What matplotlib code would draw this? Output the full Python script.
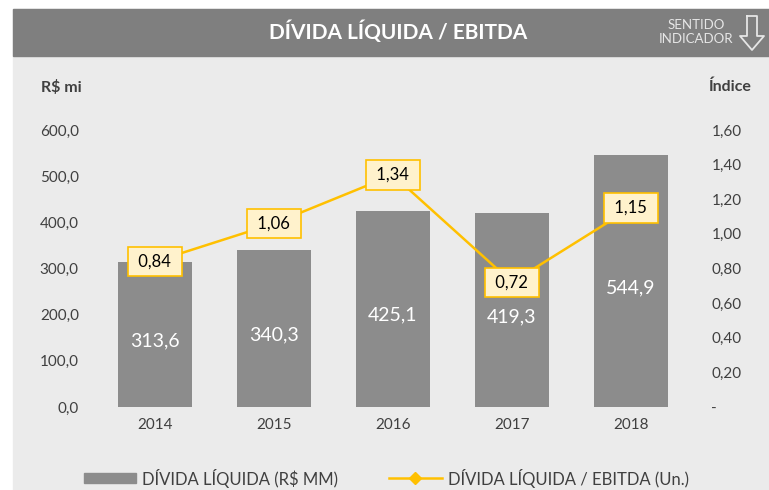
import matplotlib.pyplot as plt
from matplotlib.patches import Rectangle
from matplotlib.lines import Line2D

plt.rcParams['font.family'] = ['Lato', 'DejaVu Sans']

anos = ['2014', '2015', '2016', '2017', '2018']
divida = [313.6, 340.3, 425.1, 419.3, 544.9]
indice = [0.84, 1.06, 1.34, 0.72, 1.15]
ticks_esq = [0, 100, 200, 300, 400, 500, 600]
ticks_dir = [0, 0.2, 0.4, 0.6, 0.8, 1.0, 1.2, 1.4, 1.6]

W, H = 769, 490
fig = plt.figure(figsize=(W / 100, H / 100), dpi=100)
fig.patch.set_facecolor('white')

# fundo cinza e faixa do titulo
fig.patches.append(Rectangle((13 / W, 0), 1, (H - 9) / H, transform=fig.transFigure,
                             color='#ebebeb', zorder=-10))
fig.patches.append(Rectangle((13 / W, (H - 56) / H), 1, 47 / H, transform=fig.transFigure,
                             color='#7f7f7f', zorder=-9))
fig.text(398 / W, (H - 32) / H, 'DÍVIDA LÍQUIDA / EBITDA', color='white', fontsize=15,
         fontweight='bold', ha='center', va='center')
fig.text(696 / W, (H - 32) / H, 'SENTIDO\nINDICADOR', color='#e6e6e6', fontsize=9.5,
         ha='center', va='center', linespacing=1.25)
# seta para baixo (contorno)
sx, sy = 752, 16
seta = [(sx - 5, sy), (sx + 5, sy), (sx + 5, sy + 20), (sx + 12, sy + 20), (sx, sy + 34),
        (sx - 12, sy + 20), (sx - 5, sy + 20), (sx - 5, sy)]
fig.lines.append(Line2D([p[0] / W for p in seta], [(H - p[1]) / H for p in seta],
                        transform=fig.transFigure, color='#e6e6e6', lw=1.3))

ax = fig.add_axes([95.5 / W, 83 / H, 595 / W, 277 / H])
ax.set_facecolor('none')
x = range(len(anos))
ax.bar(x, divida, width=0.63, color='#8c8c8c', zorder=2)
for xi, v in zip(x, divida):
    ax.annotate(f'{v:.1f}'.replace('.', ','), (xi, v / 2), xytext=(0, -4.5),
                textcoords='offset points', ha='center', va='center', color='white',
                fontsize=14, zorder=3)
ax.set_xlim(-0.5, 4.5)
ax.set_ylim(0, 600)
ax.set_xticks(list(x))
ax.set_xticklabels(anos)
ax.set_yticks(ticks_esq)
ax.set_yticklabels([f'{v:.1f}'.replace('.', ',') for v in ticks_esq])
ax.tick_params(length=0, labelsize=11, labelcolor='#404040', pad=12)
ax.tick_params(axis='x', pad=8)
for s in ax.spines.values():
    s.set_visible(False)

ax2 = ax.twinx()
ax2.plot(x, indice, color='#ffc000', lw=1.8, zorder=3)
for xi, v in zip(x, indice):
    ax2.text(xi, v, ' ' + f'{v:.2f}'.replace('.', ',') + ' ', ha='center', va='center',
             fontsize=12, color='black', zorder=4,
             bbox=dict(boxstyle='square,pad=0.4', fc='#fff2cc', ec='#ffc000', lw=1.2))
ax2.set_ylim(0, 1.6)
ax2.set_yticks(ticks_dir)
ax2.set_yticklabels(['-'] + [f'{v:.2f}'.replace('.', ',') for v in ticks_dir[1:]])
ax2.tick_params(length=0, labelsize=11, labelcolor='#404040', pad=15)
for s in ax2.spines.values():
    s.set_visible(False)

fig.text(61 / W, (H - 87) / H, 'R$ mi', fontsize=11.5, fontweight='bold', color='#404040',
         ha='center', va='center')
fig.text(730 / W, (H - 87) / H, 'Índice', fontsize=11.5, fontweight='bold', color='#404040',
         ha='center', va='center')

# legenda
ly = (H - 478) / H
fig.patches.append(Rectangle((84 / W, (H - 483) / H), 52 / W, 10 / H,
                             transform=fig.transFigure, color='#8c8c8c'))
fig.text(142 / W, ly, 'DÍVIDA LÍQUIDA (R$ MM)', fontsize=12, color='#404040', va='center')
fig.lines.append(Line2D([389 / W, 442 / W], [ly, ly], transform=fig.transFigure,
                        color='#ffc000', lw=1.8))
fig.lines.append(Line2D([415 / W], [ly], transform=fig.transFigure, color='#ffc000',
                        marker='D', markersize=6, lw=0))
fig.text(448 / W, ly, 'DÍVIDA LÍQUIDA / EBITDA (Un.)', fontsize=12, color='#404040',
         va='center')

fig.savefig('out.png', dpi=100)
